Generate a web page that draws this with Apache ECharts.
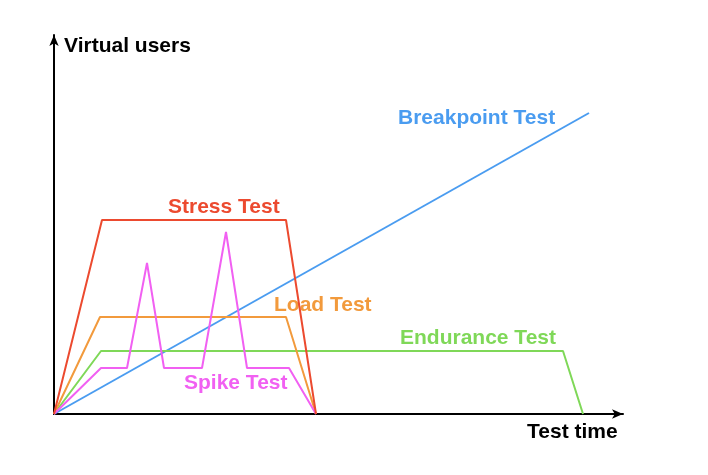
<!DOCTYPE html>
<html>
<head>
<meta charset="utf-8">
<script src="https://cdn.jsdelivr.net/npm/echarts@6/dist/echarts.min.js"></script>
<style>html,body{margin:0;padding:0;background:#fff;}#c{width:708px;height:475px;}</style>
</head>
<body>
<div id="c"></div>
<script>
const breakpointTest = [[0,0],[535,301]];
const stressTest = [[0,0],[48,194],[232,194],[262,0]];
const loadTest = [[0,0],[46,97],[232,97],[262,0]];
const enduranceTest = [[0,0],[47,63],[509,63],[529,0]];
const spikeTest = [[0,0],[47,46],[73,46],[93,151],[110,46],[148,46],[172,182],[193,46],[235,46],[262,0]];
const xName = 'Test time';
const yName = 'Virtual users';

const font = '"Liberation Sans", Arial, Helvetica, sans-serif';
const chart = echarts.init(document.getElementById('c'));
function line(name, data, color) {
  return { name, type: 'line', data, symbol: 'none', silent: true,
    lineStyle: { color, width: 2 }, z: 2 };
}
function label(text, x, y, color) {
  return { type: 'text', x: x, y: y, style: { text, fill: color, font: 'bold 21px ' + font, verticalAlign: 'middle', align: 'left' } };
}
chart.setOption({
  animation: false,
  grid: { left: 54, top: 35, width: 569, height: 379 },
  xAxis: { type: 'value', min: 0, max: 569, axisLine: { show: true, symbol: ['none','arrow'], symbolSize: [7, 11], lineStyle: { color: '#000', width: 2 } },
    axisTick: { show: false }, axisLabel: { show: false }, splitLine: { show: false } },
  yAxis: { type: 'value', min: 0, max: 379, axisLine: { show: true, symbol: ['none','arrow'], symbolSize: [7, 11], lineStyle: { color: '#000', width: 2 } },
    axisTick: { show: false }, axisLabel: { show: false }, splitLine: { show: false } },
  series: [
    line('Breakpoint Test', breakpointTest, '#4a9cf0'),
    line('Endurance Test', enduranceTest, '#7fd858'),
    line('Load Test', loadTest, '#f29a3c'),
    line('Spike Test', spikeTest, '#f160f2'),
    line('Stress Test', stressTest, '#ec4a2f')
  ],
  graphic: [
    label(yName, 64, 46, '#000'),
    label(xName, 527, 432, '#000'),
    label('Breakpoint Test', 398, 118, '#4a9cf0'),
    label('Stress Test', 168, 207, '#ec4a2f'),
    label('Load Test', 274, 305, '#f29a3c'),
    label('Endurance Test', 400, 338, '#7fd858'),
    label('Spike Test', 184, 383, '#f160f2')
  ]
});
</script>
</body>
</html>
